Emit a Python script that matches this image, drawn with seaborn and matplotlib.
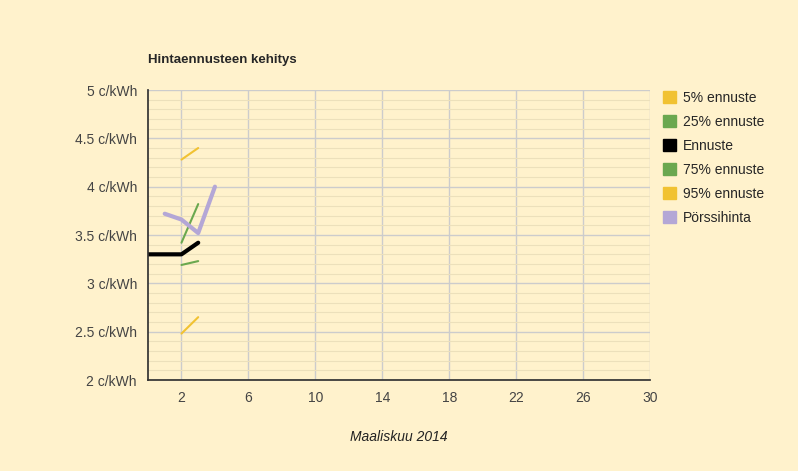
import matplotlib
matplotlib.use("Agg")
import matplotlib.pyplot as plt
import seaborn as sns
import pandas as pd
import numpy as np
from matplotlib.ticker import MultipleLocator
import matplotlib.patches as mpatches

days_f = [2, 3]
p5 = [2.48, 2.65]
p25 = [3.19, 3.23]
p75 = [3.42, 3.82]
p95 = [4.28, 4.40]
days_e = [0, 2, 3]
ennuste = [3.30, 3.30, 3.42]
days_p = [1, 2, 3, 4]
porssi = [3.72, 3.66, 3.52, 4.00]

sns.set_theme(style="white")
plt.rcParams['font.family'] = ['Liberation Sans', 'DejaVu Sans']
bg = "#fff2cc"
fig = plt.figure(figsize=(7.98, 4.71), dpi=100, facecolor=bg)
ax = fig.add_axes([148/798, 1-380/471, 502/798, 290/471])
ax.set_facecolor(bg)

yel, grn, pur = "#f1c232", "#6aa84f", "#b4a7d6"
series = [
    ("5% ennuste", days_f, p5, yel, 1.5),
    ("25% ennuste", days_f, p25, grn, 1.5),
    ("Ennuste", days_e, ennuste, "black", 3),
    ("75% ennuste", days_f, p75, grn, 1.5),
    ("95% ennuste", days_f, p95, yel, 1.5),
    ("Pörssihinta", days_p, porssi, pur, 3),
]
for name, x, y, c, lw in series:
    sns.lineplot(x=x, y=y, ax=ax, color=c, linewidth=lw, label=name)

ax.set_xlim(0, 30)
ax.set_ylim(2, 5)
ax.set_xticks(range(2, 31, 4))
ax.set_yticks(np.arange(2, 5.01, 0.5))
ax.set_yticklabels([f"{v:g} c/kWh" for v in np.arange(2, 5.01, 0.5)])
ax.yaxis.set_minor_locator(MultipleLocator(0.1))
ax.grid(which="major", color="#cccccc", linewidth=1)
ax.grid(which="minor", axis="y", color="#ece0bb", linewidth=0.8)
ax.set_axisbelow(True)
for s in ["top", "right"]:
    ax.spines[s].set_visible(False)
ax.spines["left"].set_color("#333333")
ax.spines["bottom"].set_color("#333333")
ax.tick_params(colors="#444444", labelsize=10, length=0, pad=8)
ax.set_xlabel("")
fig.text(399/798, 1-437/471, "Maaliskuu 2014", fontstyle="italic", fontsize=10,
         color="#222222", ha="center", va="center")
fig.text(148/798, 1-60/471, "Hintaennusteen kehitys", fontsize=9.5, fontweight="bold", va="center")

labels = [s[0] for s in series]
cols = [s[3] for s in series]
patches = [mpatches.Patch(color=c, label=l) for c, l in zip(cols, labels)]
ax.legend(handles=patches, loc="upper left", bbox_to_anchor=(1.0, 1.04), frameon=False,
          fontsize=10, handlelength=1, handleheight=1, handletextpad=0.5, labelspacing=0.72)
fig.savefig("out.png", dpi=100, facecolor=bg)
